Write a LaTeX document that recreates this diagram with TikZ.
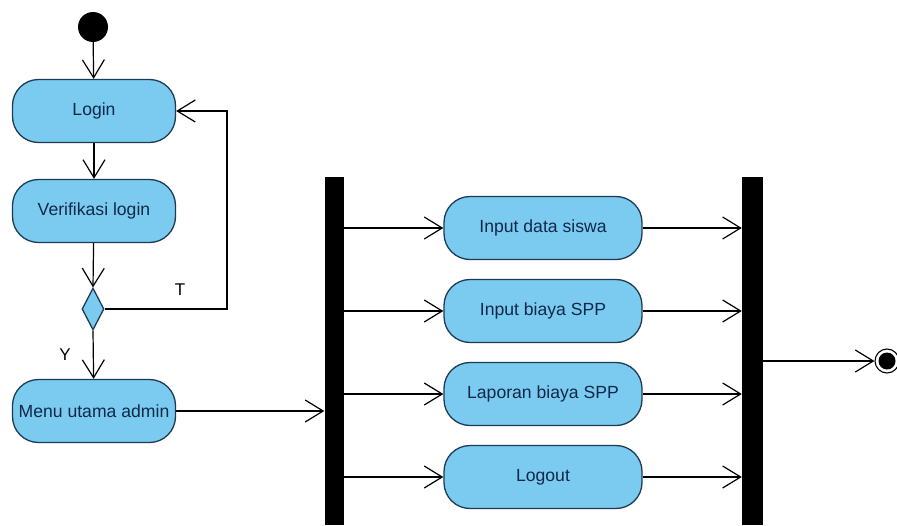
\documentclass[tikz,border=0pt]{standalone}
\usepackage{fontspec}
\setmainfont{Liberation Sans}
\usetikzlibrary{arrows.meta,shapes.geometric}
\definecolor{actfill}{HTML}{7BCBF1}
\definecolor{actborder}{HTML}{1E3A55}
\definecolor{acttext}{HTML}{10284A}
\begin{document}
\begin{tikzpicture}[x=1pt,y=-1pt,
  act/.style={draw=actborder, line width=1.3pt, fill=actfill, rounded corners=26pt,
    minimum height=63pt, inner sep=0pt, text=acttext,
    font=\fontsize{17.6}{20}\selectfont},
  bar/.style={fill=black, inner sep=0pt, minimum height=348pt},
  arr/.style={line width=1.2pt, -{Straight Barb[length=18pt,width=22pt,line width=1.2pt]}},
  lbl/.style={font=\fontsize{17}{20}\selectfont, inner sep=0pt}]
\useasboundingbox (0,0) rectangle (897,525);
\fill[white] (0,0) rectangle (897,525);
% start
\node[circle, fill=black, minimum size=30pt, inner sep=0pt] (start) at (93,27) {};
% left column
\node[act, minimum width=163pt] (login) at (94,111) {Login};
\node[act, minimum width=163pt] (verif) at (94,211) {Verifikasi login};
\node[draw=actborder, line width=1.3pt, fill=actfill, diamond, shape aspect=1, inner sep=0pt,
  minimum width=22pt, minimum height=42pt] (dec) at (93,309) {};
\node[act, minimum width=163pt] (menu) at (94,411) {Menu utama admin};
% bars
\node[bar, minimum width=19pt] (fork) at (334,351) {};
\node[bar, minimum width=21pt] (join) at (752.5,351) {};
% activities
\node[act, minimum width=198pt] (a1) at (543,228) {Input data siswa};
\node[act, minimum width=198pt] (a2) at (543,311) {Input biaya SPP};
\node[act, minimum width=198pt] (a3) at (543,394) {Laporan biaya SPP};
\node[act, minimum width=198pt] (a4) at (543,477) {Logout};
% end
\node[circle, draw=black, line width=1.1pt, minimum size=24pt, inner sep=0pt] (end) at (887,361) {};
\fill[black] (end.center) circle (8.5pt);
% labels
\node[lbl] (lT) at (180,290) {T};
\node[lbl] (lY) at (65,355) {Y};
% connectors
\draw[arr] (start) -- (login);
\draw[arr] (login) -- (verif);
\draw[arr] (verif) -- (dec.north);
\draw[arr] (dec.south) -- (menu);
\coordinate (lp) at (227,309);
\draw[arr] (dec.east) -- (lp) |- (login.east);
\draw[arr] (menu.east) -- (menu.east -| fork.west);
\foreach \a in {a1,a2,a3,a4}{
  \draw[arr] (fork.east |- \a.west) -- (\a.west);
  \draw[arr] (\a.east) -- (\a.east -| join.west);
}
\draw[arr] (join.east |- end.west) -- (end.west);
\end{tikzpicture}
\end{document}
